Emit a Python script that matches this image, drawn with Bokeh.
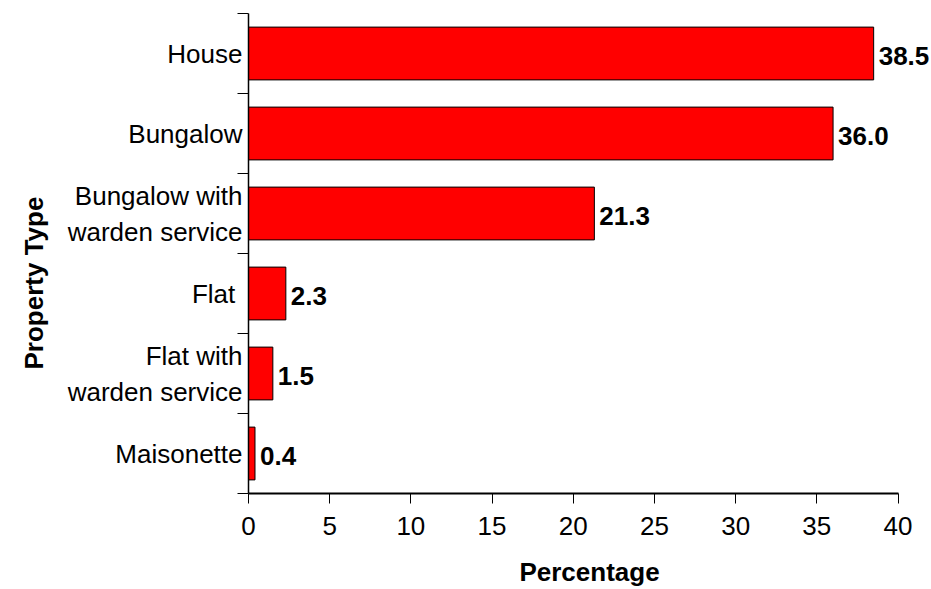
from bokeh.plotting import figure
from bokeh.models import FixedTicker, Range1d, ColumnDataSource, Title
from bokeh.core.properties import value
from bokeh.embed import file_html
from bokeh.resources import INLINE

categories = ["House", "Bungalow", "Bungalow with\nwarden service", "Flat ",
              "Flat with\nwarden service", "Maisonette"]
percentages = [38.5, 36.0, 21.3, 2.3, 1.5, 0.4]
x_ticks = [0, 5, 10, 15, 20, 25, 30, 35, 40]

n = len(categories)
ypos = [n - i for i in range(n)]
src = ColumnDataSource(dict(y=ypos, v=percentages,
                            lab=["%.1f" % v for v in percentages]))

FONT = "Liberation Sans"

p = figure(width=931, height=589, output_backend="svg", toolbar_location=None,
           x_range=Range1d(0, 42), y_range=Range1d(0.5, n + 0.5),
           min_border_left=248, min_border_right=1, min_border_top=13,
           min_border_bottom=87)
p.outline_line_color = None
p.grid.visible = False
p.background_fill_color = "white"
p.border_fill_color = "white"

p.hbar(y="y", right="v", left=0, height=0.66, source=src,
       fill_color="#FF0000", line_color="black", line_width=1)
p.text(x="v", y="y", text="lab", source=src, x_offset=5, y_offset=2,
       text_font=value(FONT), text_font_size="26px", text_font_style="bold",
       text_baseline="middle", text_align="left", text_color="black")

# x axis
xa = p.xaxis[0]
xa.ticker = FixedTicker(ticks=x_ticks)
xa.bounds = (0, 40)
xa.axis_label = "Percentage"
xa.axis_label_text_font = FONT
xa.axis_label_text_font_size = "26px"
xa.axis_label_text_font_style = "bold"
xa.axis_label_text_color = "black"
xa.axis_label_standoff = 19
xa.major_label_text_font = FONT
xa.major_label_text_font_size = "26px"
xa.major_label_text_color = "black"
xa.major_label_standoff = 13
xa.major_tick_out = 10
xa.major_tick_in = 0
xa.minor_tick_out = 0
xa.minor_tick_in = 0
xa.axis_line_width = 2
xa.major_tick_line_width = 1
xa.major_tick_line_color = "black"
xa.axis_line_color = "black"

# y axis: labels at category centres, ticks at boundaries
ya = p.yaxis[0]
ya.ticker = FixedTicker(ticks=ypos, minor_ticks=[k + 0.5 for k in range(n + 1)])
ya.major_label_overrides = {yy: c for yy, c in zip(ypos, categories)}
ya.major_tick_out = 0
ya.major_tick_in = 0
ya.minor_tick_out = 11
ya.minor_tick_in = 0
ya.minor_tick_line_color = "black"
ya.minor_tick_line_width = 1
ya.major_label_standoff = -5
ya.major_label_text_font = FONT
ya.major_label_text_font_size = "26px"
ya.major_label_text_color = "black"
ya.axis_line_width = 1.5
ya.axis_line_color = "black"

ytitle = Title(text="Property Type", align="left", offset=124, standoff=32,
               text_font=FONT, text_font_size="26px", text_font_style="bold",
               text_color="black")
p.add_layout(ytitle, "left")

open("out.html", "w").write(file_html(p, INLINE))
